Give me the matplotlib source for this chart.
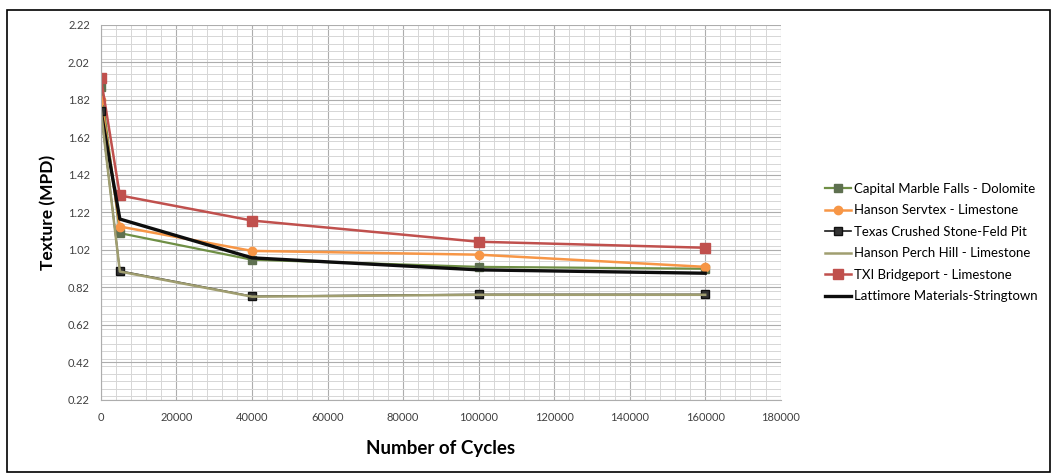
#!/usr/bin/env python3

import matplotlib.pyplot as plt
from matplotlib.patches import Rectangle
from matplotlib.ticker import MultipleLocator

plt.rcParams['font.family'] = ['Lato', 'DejaVu Sans']

cycles = [0, 5000, 40000, 100000, 160000]
capital = [1.89, 1.11, 0.968, 0.93, 0.92]
servtex = [1.82, 1.145, 1.015, 0.995, 0.93]
texas = [1.76, 0.908, 0.773, 0.783, 0.783]
perch = [1.76, 0.905, 0.771, 0.781, 0.781]
txi = [1.935, 1.311, 1.177, 1.064, 1.032]
lattimore = [1.76, 1.185, 0.978, 0.914, 0.896]

y_ticks = [0.22, 0.42, 0.62, 0.82, 1.02, 1.22, 1.42, 1.62, 1.82, 2.02, 2.22]
x_ticks = [0, 20000, 40000, 60000, 80000, 100000, 120000, 140000, 160000, 180000]

fig = plt.figure(figsize=(10.55, 4.76), dpi=100)
ax = fig.add_axes([0.0957, 0.1597, 0.6443, 0.7878])

ax.plot(cycles, capital, color='#6f8f45', lw=1.6, marker='s', ms=5.5,
        mfc='#5e7050', mec='#5e7050', label='Capital Marble Falls - Dolomite')
ax.plot(cycles, servtex, color='#f79646', lw=1.8, marker='o', ms=6,
        mfc='#f79646', mec='#f79646', label='Hanson Servtex - Limestone')
ax.plot(cycles, texas, color='#1a1a1a', lw=1.2, marker='s', ms=6,
        mfc='#333333', mec='#111111', label='Texas Crushed Stone-Feld Pit', zorder=2.4)
ax.plot(cycles, perch, color='#a09e70', lw=1.8, label='Hanson Perch Hill - Limestone', zorder=2.5)
ax.plot(cycles, txi, color='#c0504d', lw=1.8, marker='s', ms=6.5,
        mfc='#c0504d', mec='#c0504d', label='TXI Bridgeport - Limestone')
ax.plot(cycles, lattimore, color='#0d0d0d', lw=2.4, label='Lattimore Materials-Stringtown')

ax.set_xlim(0, 180000)
ax.set_ylim(0.22, 2.22)
ax.set_xticks(x_ticks)
ax.set_xticklabels([str(v) for v in x_ticks])
ax.set_yticks(y_ticks)
ax.set_yticklabels(['%.2f' % v for v in y_ticks])
ax.xaxis.set_minor_locator(MultipleLocator(4000))
ax.yaxis.set_minor_locator(MultipleLocator(0.04))
ax.grid(which='major', color='#adadad', lw=0.8)
ax.grid(which='minor', color='#d6d6d6', lw=0.7)
ax.set_axisbelow(True)
ax.tick_params(which='both', length=0, labelsize=8, labelcolor='#404040')
ax.tick_params(axis='x', pad=9)
ax.tick_params(axis='y', pad=8)
for side in ['top', 'right']:
    ax.spines[side].set_visible(False)
ax.spines['left'].set_color('#adadad')
ax.spines['bottom'].set_color('#adadad')

ax.set_xlabel('Number of Cycles', fontsize=13.5, fontweight='bold', labelpad=12)
ax.set_ylabel('Texture (MPD)', fontsize=12.5, fontweight='bold', labelpad=8)

ax.legend(loc='center left', bbox_to_anchor=(1.057, 0.42), frameon=False,
          fontsize=9.5, handlelength=2.0, handletextpad=0.2, labelspacing=0.72,
          borderaxespad=0)

fig.patches.append(Rectangle((7 / 1055, 4 / 476), 1043 / 1055, 462 / 476,
                             transform=fig.transFigure, fill=False,
                             edgecolor='black', lw=1.2))

fig.savefig('out.png', dpi=100)
